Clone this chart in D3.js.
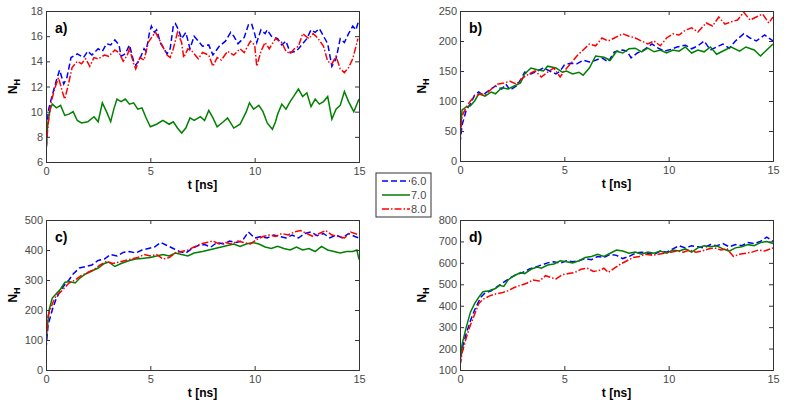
<!DOCTYPE html>
<html>
<head>
<meta charset="utf-8">
<script src="https://cdn.jsdelivr.net/npm/d3@7"></script>
<style>
  body { margin: 0; background: #fff; }
  svg { font-family: "Liberation Sans", Arial, sans-serif; }
  .tick text { fill: #4a4a4a; font-size: 11px; }
  .domain { stroke: #333; }
  .tick line { stroke: #333; }
</style>
</head>
<body>
<div id="chart"></div>
<script>
// pH labels for the legend
let legendNames = ["6.0", "7.0", "8.0"]

let xTicks = [0, 5, 10, 15]
let yTicksA = [6, 8, 10, 12, 14, 16, 18]
let yTicksB = [0, 50, 100, 150, 200, 250]
let yTicksC = [0, 100, 200, 300, 400, 500]
let yTicksD = [100, 200, 300, 400, 500, 600, 700, 800]

// panel a) [t, N_H]
let aBlue = [[0,6.5],[0.1,10],[0.25,11],[0.5,12.5],[0.65,13.3],[0.85,12.2],[1,12.7],[1.2,14.3],[1.5,14.6],[1.8,14.3],[2,14.8],[2.2,14.5],[2.5,15],[2.7,14.8],[2.9,15.4],[3.1,15.3],[3.3,15.7],[3.5,15.3],[3.6,14.4],[3.8,14.6],[4,15.3],[4.2,14],[4.3,13.7],[4.5,14.2],[4.7,15],[4.8,14.8],[4.95,16.2],[5.05,16.8],[5.2,16.3],[5.3,16.5],[5.5,15.4],[5.8,14.6],[5.95,15],[6.1,16.8],[6.2,17],[6.35,16.5],[6.5,15.8],[6.7,16.3],[6.9,15],[7.1,16],[7.3,15.6],[7.5,15.2],[7.8,15.3],[8,14.5],[8.3,15.2],[8.6,15.6],[8.85,16.3],[9,16],[9.2,15.4],[9.5,15.9],[9.7,16.9],[9.85,17],[10,16.2],[10.1,15.5],[10.3,16.5],[10.5,16.2],[10.6,16.5],[10.8,16],[11.1,15.8],[11.3,15.3],[11.5,15.6],[11.7,14.7],[12,14.8],[12.2,15.2],[12.5,15.8],[12.7,16.5],[12.9,16.3],[13.1,16.6],[13.3,16],[13.5,15.4],[13.7,13.6],[13.9,14.2],[14.1,15.8],[14.3,15.5],[14.5,16.2],[14.7,16.8],[14.85,16.5],[15,17.3]]
let aGreen = [[0,6.8],[0.08,9],[0.2,10.2],[0.3,10.6],[0.5,10.3],[0.7,10.5],[0.9,9.7],[1.1,9.8],[1.3,10],[1.5,9.3],[1.7,9.1],[2,9.2],[2.3,9.6],[2.5,9.2],[2.7,10.7],[2.9,10],[3.1,9.2],[3.25,10.2],[3.4,11],[3.6,10.8],[3.8,11],[4,10.6],[4.2,10.7],[4.4,10.2],[4.6,10.3],[4.8,9.5],[5,8.8],[5.3,9],[5.6,9.3],[5.9,9],[6.1,9.2],[6.3,8.7],[6.5,8.3],[6.7,8.7],[6.9,9.5],[7.1,9.3],[7.4,9.6],[7.6,9.3],[7.8,10.1],[8,9.5],[8.2,8.8],[8.5,9.2],[8.7,9.5],[9,8.7],[9.3,9],[9.6,10],[9.75,10.7],[9.95,10.2],[10.2,10.5],[10.4,10],[10.6,9.1],[10.85,8.6],[11,9.2],[11.1,9.8],[11.3,10.6],[11.5,10.2],[11.7,10.8],[11.9,11.3],[12.1,11.8],[12.3,11.2],[12.5,11.5],[12.7,10.4],[12.9,11],[13.1,10.6],[13.3,10.8],[13.5,11.2],[13.7,9.4],[13.9,10.2],[14.1,10.5],[14.3,11.6],[14.5,10.8],[14.75,10],[15,11]]
let aRed = [[0,7],[0.1,9],[0.25,10.8],[0.45,12],[0.6,12.7],[0.8,11.5],[0.9,11],[1.05,12],[1.25,13.5],[1.5,14],[1.7,13.8],[1.9,14.2],[2.1,13.6],[2.3,14.3],[2.5,14.2],[2.8,14.5],[3,14.4],[3.3,14.9],[3.5,14.7],[3.7,14],[3.9,14.5],[4,15],[4.2,13.8],[4.3,13.4],[4.5,14.3],[4.7,14.1],[4.9,15.5],[5.1,16],[5.25,16.3],[5.5,15.5],[5.8,14.5],[5.95,14.3],[6.1,15],[6.3,16.3],[6.5,15.5],[6.6,14.3],[6.8,15],[7,14.8],[7.3,14.2],[7.5,14.7],[7.8,14.5],[8,13.6],[8.2,14.3],[8.4,14.1],[8.7,14.8],[9,14.5],[9.3,15],[9.5,14.7],[9.8,15.6],[10,15.3],[10.1,13.6],[10.3,14.8],[10.5,15.5],[10.7,15],[11,15.8],[11.3,15.5],[11.5,14.8],[11.7,14.6],[11.9,15],[12.1,15.2],[12.3,16.2],[12.6,15.8],[12.8,16.2],[13,15.9],[13.3,15.2],[13.5,14],[13.7,13.8],[13.9,14.4],[14.1,13.4],[14.3,13.1],[14.5,13.5],[14.7,14.2],[14.95,15.8]]

// panel b)
let bBlue = [[0,30],[0.1,60],[0.3,85],[0.5,95],[0.7,110],[0.9,115],[1.1,110],[1.4,118],[1.7,125],[2,120],[2.2,128],[2.4,118],[2.7,125],[2.9,135],[3.1,148],[3.4,145],[3.7,150],[4,155],[4.3,150],[4.6,145],[4.8,150],[5,160],[5.3,163],[5.6,162],[5.9,168],[6.2,165],[6.5,168],[6.8,172],[7.1,165],[7.4,182],[7.8,185],[8,183],[8.2,172],[8.5,180],[8.8,185],[9.2,195],[9.5,188],[9.8,183],[10.1,186],[10.4,190],[10.8,193],[11.1,187],[11.4,192],[11.7,200],[12,185],[12.3,190],[12.6,195],[12.9,188],[13.2,200],[13.6,212],[13.9,205],[14.2,200],[14.6,210],[15,200]]
let bGreen = [[0,45],[0.1,85],[0.3,90],[0.5,92],[0.7,100],[0.9,112],[1.2,108],[1.5,115],[1.7,112],[2,122],[2.3,120],[2.6,125],[2.9,130],[3.1,145],[3.4,155],[3.7,152],[4,150],[4.2,158],[4.6,155],[4.9,148],[5.1,150],[5.4,145],[5.7,148],[5.9,143],[6.2,155],[6.5,175],[6.9,173],[7.2,168],[7.5,183],[7.8,180],[8.1,187],[8.4,188],[8.7,182],[9,188],[9.3,182],[9.6,185],[9.9,180],[10.2,185],[10.5,183],[10.8,190],[11.1,180],[11.4,185],[11.7,182],[12,190],[12.3,178],[12.7,185],[13,190],[13.4,183],[13.7,190],[14.1,185],[14.4,175],[14.7,185],[15,195]]
let bRed = [[0,35],[0.1,75],[0.3,90],[0.5,100],[0.7,108],[1,112],[1.2,110],[1.5,120],[1.8,128],[2.1,130],[2.4,133],[2.7,128],[3,138],[3.3,145],[3.6,150],[3.9,140],[4.2,148],[4.5,155],[4.8,140],[5,150],[5.3,162],[5.6,175],[5.9,185],[6.2,195],[6.5,192],[6.8,205],[7.1,200],[7.4,205],[7.8,212],[8.1,208],[8.4,205],[8.7,200],[9,195],[9.3,200],[9.6,192],[9.9,205],[10.2,212],[10.5,210],[10.8,218],[11.1,222],[11.4,215],[11.8,230],[12.1,225],[12.4,240],[12.7,228],[13,232],[13.3,235],[13.6,248],[13.9,235],[14.2,240],[14.5,245],[14.8,230],[15,240]]

// panel c)
let cBlue = [[0,70],[0.1,150],[0.3,200],[0.5,240],[0.7,265],[0.9,285],[1.1,300],[1.3,320],[1.6,340],[1.9,345],[2.2,350],[2.5,365],[2.8,370],[3.1,385],[3.4,380],[3.7,392],[4,395],[4.3,390],[4.6,400],[4.9,405],[5.2,410],[5.5,425],[5.8,415],[6.1,405],[6.4,395],[6.7,390],[7,405],[7.3,415],[7.6,418],[7.9,410],[8.2,425],[8.5,420],[8.8,430],[9.1,425],[9.4,430],[9.7,460],[10,440],[10.3,445],[10.6,440],[10.9,450],[11.2,445],[11.5,440],[11.8,450],[12.1,440],[12.4,455],[12.7,460],[13,448],[13.3,455],[13.6,440],[13.9,450],[14.2,440],[14.5,455],[14.8,445],[15,440]]
let cGreen = [[0,100],[0.15,200],[0.3,240],[0.5,255],[0.7,270],[0.9,292],[1.1,295],[1.4,290],[1.6,305],[1.9,320],[2.2,330],[2.5,340],[2.8,355],[3,360],[3.3,345],[3.6,355],[4,365],[4.3,370],[4.6,372],[5,375],[5.3,380],[5.6,385],[5.9,380],[6.2,390],[6.5,385],[6.8,380],[7.1,390],[7.5,395],[7.8,400],[8.1,405],[8.4,410],[8.7,415],[9,420],[9.3,412],[9.6,420],[9.9,425],[10.2,420],[10.5,410],[10.8,405],[11.1,412],[11.4,405],[11.7,400],[12,410],[12.3,400],[12.6,405],[12.9,395],[13.2,412],[13.5,400],[13.8,395],[14.1,390],[14.4,395],[14.7,395],[14.9,400],[15,368]]
let cRed = [[0,90],[0.1,180],[0.3,220],[0.5,250],[0.7,260],[0.9,275],[1.1,290],[1.4,300],[1.7,315],[2,325],[2.3,335],[2.6,350],[2.9,362],[3.2,355],[3.5,360],[3.8,365],[4.1,370],[4.4,375],[4.7,385],[5,380],[5.3,385],[5.6,370],[5.9,375],[6.2,390],[6.5,395],[6.8,400],[7.1,410],[7.4,420],[7.7,425],[8,430],[8.3,420],[8.6,425],[8.9,420],[9.2,430],[9.5,425],[9.8,420],[10.1,435],[10.4,445],[10.7,450],[11,445],[11.3,455],[11.6,450],[11.9,460],[12.2,465],[12.5,455],[12.8,445],[13.1,455],[13.4,465],[13.7,450],[14,445],[14.3,440],[14.6,460],[15,450]]

// panel d)
let dBlue = [[0,120],[0.1,200],[0.3,270],[0.5,330],[0.7,380],[0.9,420],[1,440],[1.2,460],[1.5,470],[1.8,490],[2.1,510],[2.4,530],[2.7,545],[3,555],[3.3,570],[3.6,580],[3.9,590],[4.2,600],[4.5,605],[4.8,598],[5.1,610],[5.4,605],[5.7,610],[6,620],[6.3,615],[6.6,630],[6.9,625],[7.2,640],[7.5,635],[7.8,620],[8.1,630],[8.4,645],[8.7,650],[9,645],[9.3,640],[9.6,655],[9.9,650],[10.2,665],[10.5,680],[10.8,670],[11.1,680],[11.4,675],[11.7,670],[12,685],[12.3,680],[12.6,690],[12.9,675],[13.2,685],[13.5,680],[13.8,695],[14.1,690],[14.4,700],[14.7,720],[15,700]]
let dGreen = [[0,130],[0.1,220],[0.3,300],[0.5,370],[0.7,410],[0.9,440],[1.1,465],[1.4,470],[1.7,480],[1.9,495],[2.1,490],[2.3,520],[2.6,540],[2.9,555],[3.1,550],[3.4,570],[3.7,580],[3.9,575],[4.2,590],[4.5,595],[4.8,610],[5.1,605],[5.4,600],[5.7,610],[6,625],[6.3,630],[6.6,640],[6.9,630],[7.2,645],[7.5,660],[7.8,655],[8.1,645],[8.4,650],[8.7,640],[9,650],[9.3,645],[9.6,655],[9.9,645],[10.2,660],[10.5,655],[10.8,665],[11.1,650],[11.4,670],[11.7,680],[12,675],[12.3,680],[12.6,665],[12.9,655],[13.2,670],[13.5,675],[13.8,685],[14.1,680],[14.4,695],[14.7,700],[15,690]]
let dRed = [[0,120],[0.1,180],[0.3,250],[0.5,310],[0.7,360],[0.9,410],[1.1,430],[1.4,445],[1.7,455],[2,460],[2.3,470],[2.6,485],[2.9,495],[3.2,505],[3.5,520],[3.8,515],[4.1,540],[4.4,530],[4.6,525],[4.9,545],[5.2,550],[5.5,555],[5.8,570],[6.1,575],[6.4,560],[6.7,565],[6.9,575],[7.1,555],[7.4,575],[7.7,595],[8,610],[8.3,625],[8.6,630],[8.9,640],[9.2,635],[9.5,640],[9.8,645],[10.1,650],[10.4,655],[10.7,650],[11,660],[11.3,650],[11.6,655],[11.9,665],[12.2,670],[12.5,660],[12.8,665],[13.1,630],[13.4,640],[13.7,645],[14,650],[14.3,660],[14.6,655],[15,670]]

let width = 785
let height = 405

let colors = ["#0000ff", "#008000", "#ff0000"]
let dashes = ["6,3", null, "7,2,1.5,2"]

let svg = d3.select("#chart")
        .append("svg")
        .attr("width", width)
        .attr("height", height)

// plot box of each panel, in pixels
let panels = [
    {label: "a)", left: 46, right: 359, top: 11, bottom: 162, yMax: 18, yMin: 6, yTicks: yTicksA, series: [aBlue, aGreen, aRed]},
    {label: "b)", left: 460, right: 773, top: 11, bottom: 161, yMax: 250, yMin: 0, yTicks: yTicksB, series: [bBlue, bGreen, bRed]},
    {label: "c)", left: 46, right: 359, top: 220, bottom: 370, yMax: 500, yMin: 0, yTicks: yTicksC, series: [cBlue, cGreen, cRed]},
    {label: "d)", left: 460, right: 773, top: 220, bottom: 370, yMax: 800, yMin: 100, yTicks: yTicksD, series: [dBlue, dGreen, dRed]}
]

panels.forEach(function(p, i){
    let xScale = d3.scaleLinear().domain([0, 15]).range([p.left, p.right])
    let yScale = d3.scaleLinear().domain([p.yMin, p.yMax]).range([p.bottom, p.top])

    let g = svg.append("g")

    g.append("rect")
        .attr("x", p.left).attr("y", p.top)
        .attr("width", p.right - p.left).attr("height", p.bottom - p.top)
        .attr("fill", "#fff")

    g.append("clipPath").attr("id", "clip" + i)
        .append("rect")
        .attr("x", p.left).attr("y", p.top)
        .attr("width", p.right - p.left).attr("height", p.bottom - p.top)

    let line = d3.line()
        .x(function(d){ return xScale(d[0]) })
        .y(function(d){ return yScale(d[1]) })

    p.series.forEach(function(s, k){
        g.append("path")
            .datum(s)
            .attr("clip-path", "url(#clip" + i + ")")
            .attr("fill", "none")
            .attr("stroke", colors[k])
            .attr("stroke-width", 1.5)
            .attr("stroke-dasharray", dashes[k])
            .attr("d", line)
    })

    // axes, ticks inward like matlab
    g.append("g")
        .attr("transform", `translate(0, ${p.bottom})`)
        .call(d3.axisBottom(xScale).tickValues(xTicks).tickSize(-4).tickPadding(5))
    g.append("g")
        .attr("transform", `translate(0, ${p.top})`)
        .call(d3.axisTop(xScale).tickValues(xTicks).tickSize(-4).tickFormat(""))
    g.append("g")
        .attr("transform", `translate(${p.left}, 0)`)
        .call(d3.axisLeft(yScale).tickValues(p.yTicks).tickSize(-4).tickPadding(3))
    g.append("g")
        .attr("transform", `translate(${p.right}, 0)`)
        .call(d3.axisRight(yScale).tickValues(p.yTicks).tickSize(-4).tickFormat(""))

    g.selectAll(".domain").attr("stroke", "#333")

    // panel label
    g.append("text")
        .attr("x", p.left + 9)
        .attr("y", p.top + 22)
        .attr("font-size", 14)
        .attr("font-weight", "bold")
        .text(p.label)

    // x title
    g.append("text")
        .attr("x", (p.left + p.right) / 2)
        .attr("y", p.bottom + 27)
        .attr("text-anchor", "middle")
        .attr("font-size", 12)
        .attr("font-weight", "bold")
        .text("t [ns]")

    // y title N_H
    let yt = g.append("text")
        .attr("transform", `translate(${p.left - (i % 2 ? 34 : 29)}, ${(p.top + p.bottom) / 2}) rotate(-90)`)
        .attr("text-anchor", "middle")
        .attr("font-size", 12)
        .attr("font-weight", "bold")
    yt.append("tspan").text("N")
    yt.append("tspan").attr("font-size", 9).attr("dy", 3).text("H")
})

// legend
let legend = svg.append("g").attr("transform", "translate(376, 173)")
legend.append("rect")
    .attr("width", 55).attr("height", 44)
    .attr("fill", "#fff").attr("stroke", "#333")
legendNames.forEach(function(name, k){
    let ly = 8 + k * 14
    legend.append("line")
        .attr("x1", 6).attr("x2", 34)
        .attr("y1", ly).attr("y2", ly)
        .attr("stroke", colors[k])
        .attr("stroke-width", 1.5)
        .attr("stroke-dasharray", dashes[k])
    legend.append("text")
        .attr("x", 35).attr("y", ly + 4)
        .attr("font-size", 11)
        .attr("fill", "#4a4a4a")
        .text(name)
})
</script>
</body>
</html>
